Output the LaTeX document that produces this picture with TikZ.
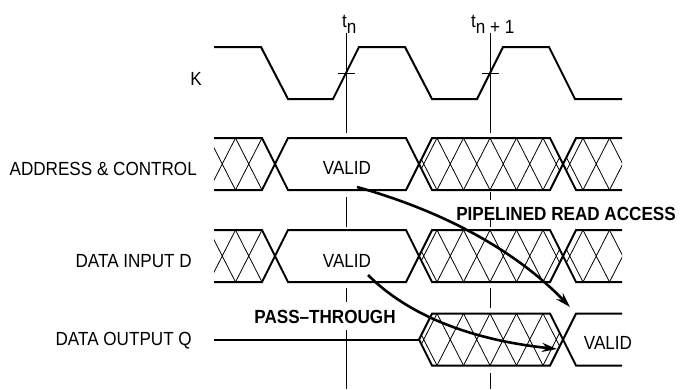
\documentclass[tikz,border=0pt]{standalone}
\usepackage{fontspec}
\setmainfont{Liberation Sans}[FakeStretch=0.9]
\usetikzlibrary{arrows.meta}

\tikzset{
  wave/.style={line width=2pt},
  bus/.style={line width=2pt},
  hatch/.style={line width=0.8pt},
  tline/.style={line width=0.9pt},
  flow/.style={line width=2.6pt,-{Stealth[length=15pt,width=9pt]}},
  lbl/.style={inner sep=0pt,font=\fontsize{19}{22}\selectfont},
  blbl/.style={lbl,font=\fontsize{19}{22}\selectfont\bfseries},
}

% crossed lines of an unknown bus value: row middle, first vertex, count
\newcommand\hatchlines[3]{%
  \foreach \k in {0,...,#3}
    \draw[hatch] (#2+26.5*\k,#1-26) -- (#2+26.5*\k+26.5,#1+26)
                 (#2+26.5*\k+26.5,#1-26) -- (#2+26.5*\k,#1+26);}

\begin{document}
\begin{tikzpicture}[x=1pt,y=-1pt]
\useasboundingbox (0,0) rectangle (680,389);

% clock K
\draw[wave] (214,47) -- (261,47) -- (288,99) -- (333,99) -- (359,47) -- (405,47)
  -- (432,99) -- (477,99) -- (503,47) -- (549,47) -- (575,99) -- (622,99);

% t_n and t_n+1
\foreach \a/\b in {33/133,197/227,288/302,330/389}
  \draw[tline] (346,\a) -- (346,\b);
\foreach \a/\b in {33/133,192/200,219/227,288/308,373/389}
  \draw[tline] (490,\a) -- (490,\b);
\draw[tline] (338,73) -- (355,73) (482,73) -- (499,73);

% address & control, data input
\foreach \m in {164,256} {
  \begin{scope}
    \clip (214,\m-26) -- (262,\m-26) -- (275,\m) -- (262,\m+26) -- (214,\m+26) -- cycle;
    \hatchlines{\m}{182.5}{3}
  \end{scope}
  \draw[bus] (214,\m-26) -- (262,\m-26) -- (275,\m) -- (262,\m+26) -- (214,\m+26);
  \draw[bus] (275,\m) -- (288,\m-26) -- (406,\m-26) -- (419,\m) -- (406,\m+26)
    -- (288,\m+26) -- cycle;
  \begin{scope}
    \clip (419,\m) -- (432,\m-26) -- (550,\m-26) -- (563,\m) -- (550,\m+26)
      -- (432,\m+26) -- cycle;
    \hatchlines{\m}{410.5}{6}
  \end{scope}
  \draw[bus] (419,\m) -- (432,\m-26) -- (550,\m-26) -- (563,\m) -- (550,\m+26)
    -- (432,\m+26) -- cycle;
  \begin{scope}
    \clip (622,\m-26) -- (576,\m-26) -- (563,\m) -- (576,\m+26) -- (622,\m+26) -- cycle;
    \hatchlines{\m}{530}{3}
  \end{scope}
  \draw[bus] (622,\m-26) -- (576,\m-26) -- (563,\m) -- (576,\m+26) -- (622,\m+26);
}

% data output
\draw[bus] (214,339.5) -- (419,339.5);
\begin{scope}
  \clip (419,339.5) -- (432,313.5) -- (550,313.5) -- (563,339.5) -- (550,365.5)
    -- (432,365.5) -- cycle;
  \hatchlines{339.5}{410.5}{6}
\end{scope}
\draw[bus] (419,339.5) -- (432,313.5) -- (550,313.5) -- (563,339.5) -- (550,365.5)
  -- (432,365.5) -- cycle;
\draw[bus] (622,313.5) -- (576,313.5) -- (563,339.5) -- (576,365.5) -- (622,365.5);

% labels
\node[lbl,anchor=base east] (lK) at (202,85) {K};
\node[lbl,anchor=base east] (lAddr) at (197,175) {ADDRESS \& CONTROL};
\node[lbl,anchor=base east] (lDin) at (192,267) {DATA INPUT D};
\node[lbl,anchor=base east] (lDout) at (192,345) {DATA OUTPUT Q};
\node[lbl,anchor=base] (vAddr) at (347,174) {VALID};
\node[lbl,anchor=base] (vDin) at (347,267) {VALID};
\node[lbl,anchor=base] (vDout) at (608,349) {VALID};
\node[lbl,anchor=base west] (tn) at (342,27) {t\raisebox{-6pt}{n}};
\node[lbl,anchor=base west] (tn1) at (471,27) {t\raisebox{-6pt}{n + 1}};
\node[blbl,anchor=base] (pipe) at (566,220) {PIPELINED READ ACCESS};
\node[blbl,anchor=base] (pass) at (325,323) {PASS\textendash THROUGH};

% access paths
\coordinate (pipeS) at (357,187);
\coordinate (pipeE) at (570,307);
\coordinate (passS) at (368,275);
\coordinate (passE) at (557,349);
\draw[flow] (pipeS) .. controls (446,212) and (517,252) .. (pipeE);
\draw[flow] (passS) .. controls (409,316) and (472,340) .. (passE);
\end{tikzpicture}
\end{document}
